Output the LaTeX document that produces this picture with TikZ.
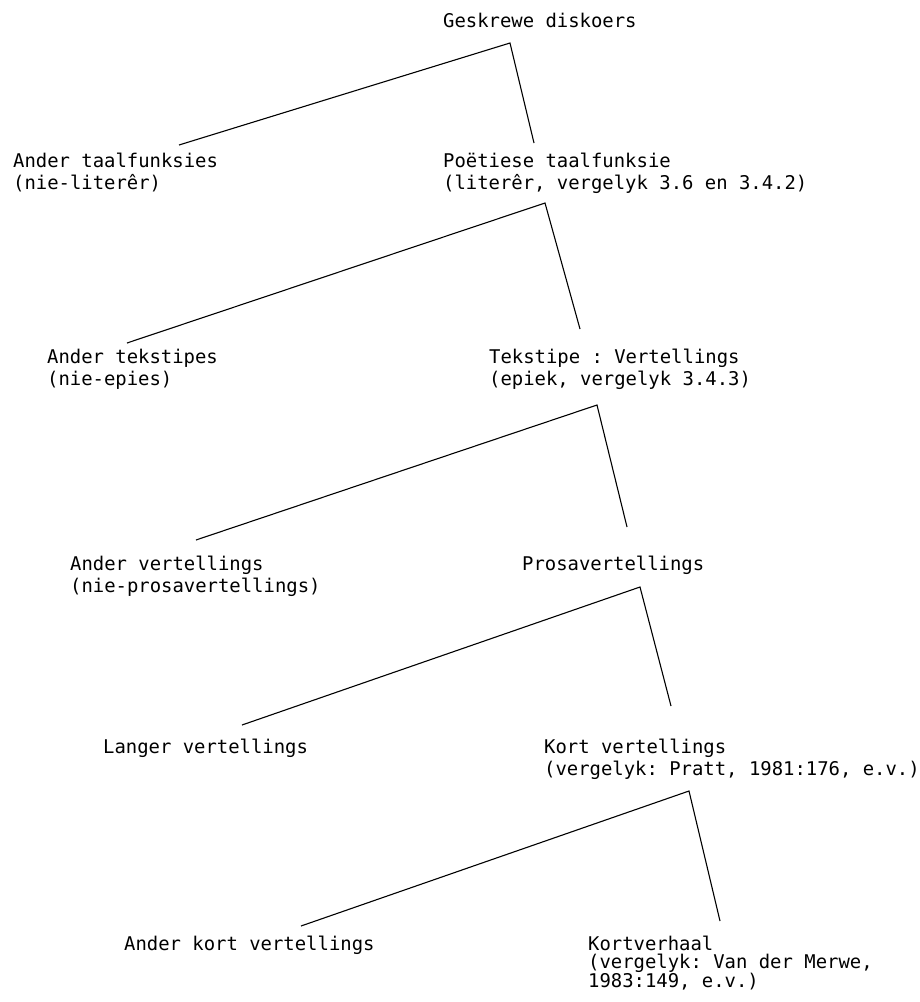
\documentclass[tikz,border=0pt]{standalone}
\usepackage{fontspec}
\setmonofont{DejaVu Sans Mono}
\usepackage{tikz}
\usetikzlibrary{calc}

\begin{document}
\begin{tikzpicture}[x=1pt, y=-1pt,
    lbl/.style={anchor=north west, inner sep=0pt, align=left,
        font=\ttfamily\fontsize{18.9}{22}\selectfont},
    tak/.style={line width=1.1pt, line join=miter}]

%%Paramaters
%% text rows (top of the first line), can be modified
\def\rowA{ 12.5 }
\def\rowB{ 152.5 }
\def\rowC{ 348.5 }
\def\rowD{ 555.5 }
\def\rowE{ 739 }
\def\rowF{ 935.5 }

\useasboundingbox (0,0) rectangle (920,1002);

    \node[lbl] (diskoers) at (443, \rowA) {Geskrewe diskoers};

    \node[lbl] (andertaal) at (13, \rowB) {Ander taalfunksies\\(nie-literêr)};
    \node[lbl] (poeties) at (443, \rowB) {Poëtiese taalfunksie\\(literêr, vergelyk 3.6 en 3.4.2)};

    \node[lbl] (andertekst) at (47, \rowC) {Ander tekstipes\\(nie-epies)};
    \node[lbl] (tekstipe) at (489, \rowC) {Tekstipe : Vertellings\\(epiek, vergelyk 3.4.3)};

    \node[lbl] (anderver) at (70, \rowD) {Ander vertellings\\(nie-prosavertellings)};
    \node[lbl] (prosa) at (522, \rowD) {Prosavertellings};

    \node[lbl] (langer) at (103, \rowE) {Langer vertellings};
    \node[lbl] (kort) at (544, \rowE) {Kort vertellings\\(vergelyk: Pratt, 1981:176, e.v.)};

    \node[lbl] (anderkort) at (124, \rowF) {Ander kort vertellings};
    \node[lbl, font=\ttfamily\fontsize{18.9}{18.5}\selectfont] (kortverhaal) at (588, \rowF)
        {Kortverhaal\\(vergelyk: Van der Merwe,\\1983:149, e.v.)};


    %% ***Split 1 : Geskrewe diskoers***
        \coordinate (top1) at (510, 43);
        \coordinate (links1) at (179, 145);
        \coordinate (regs1) at (534, 143);
        \draw[tak] (links1) -- (top1) -- (regs1);

    %% ***Split 2 : Poetiese taalfunksie***
        \coordinate (top2) at (545, 203);
        \coordinate (links2) at (127, 343);
        \coordinate (regs2) at (580, 329);
        \draw[tak] (links2) -- (top2) -- (regs2);

    %% ***Split 3 : Tekstipe***
        \coordinate (top3) at (597, 405);
        \coordinate (links3) at (196, 540);
        \coordinate (regs3) at (627, 527);
        \draw[tak] (links3) -- (top3) -- (regs3);

    %% ***Split 4 : Prosavertellings***
        \coordinate (top4) at (640, 587);
        \coordinate (links4) at (242, 725);
        \coordinate (regs4) at (671, 706);
        \draw[tak] (links4) -- (top4) -- (regs4);

    %% ***Split 5 : Kort vertellings***
        \coordinate (top5) at (689, 791);
        \coordinate (links5) at (301, 926);
        \coordinate (regs5) at (720, 921);
        \draw[tak] (links5) -- (top5) -- (regs5);

\end{tikzpicture}
\end{document}
